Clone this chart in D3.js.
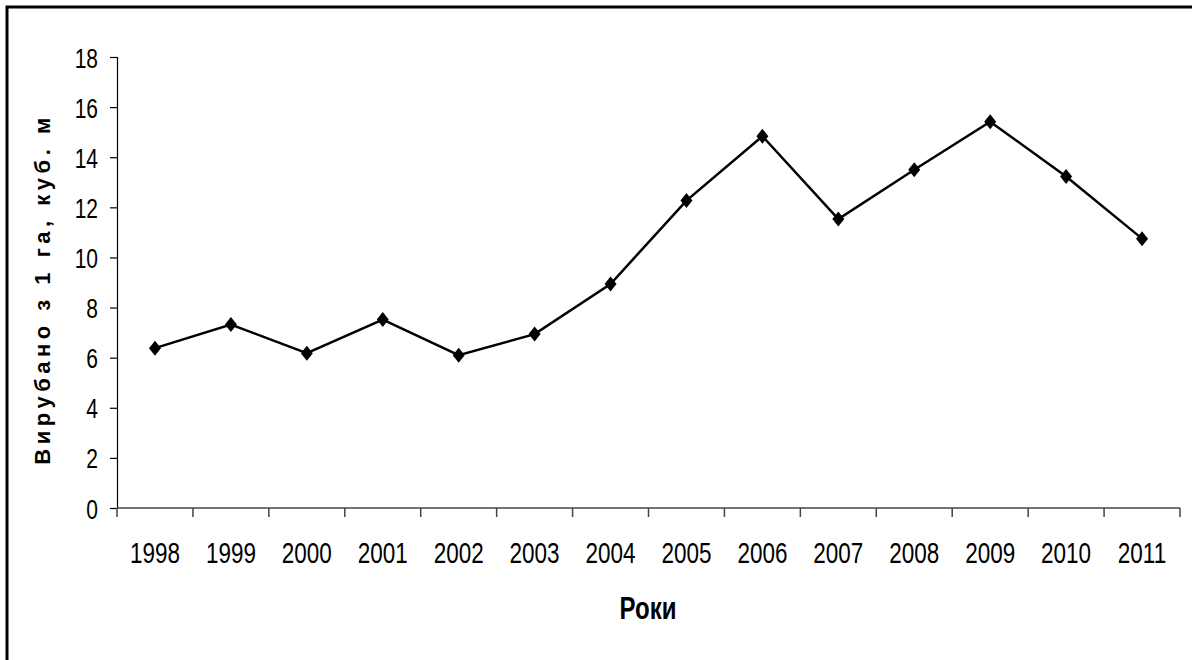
<!DOCTYPE html>
<html>
<head>
<meta charset="utf-8">
<script src="https://cdn.jsdelivr.net/npm/d3@7"></script>
<style>
html,body{margin:0;padding:0;background:#fff;}
svg{display:block;}
</style>
</head>
<body>
<svg id="chart" width="1192" height="660"></svg>
<script>
const years = ["1998","1999","2000","2001","2002","2003","2004","2005","2006","2007","2008","2009","2010","2011"];
const values = [6.38, 7.32, 6.18, 7.52, 6.1, 6.94, 8.94, 12.27, 14.84, 11.53, 13.5, 15.42, 13.23, 10.75];
const yTicks = [0,2,4,6,8,10,12,14,16,18];
const yTitle = "Вирубано з 1 га, куб. м";
const xTitle = "Роки";

(function(){
const svg = d3.select("#chart");
const W = 1192, H = 660;
const mLeft = 117, mRight = 1180, mTop = 57, mBottom = 508;
const font = "'Liberation Sans', Arial, sans-serif";
const sx = 0.75;

// outer frame (extends beyond the viewport on right/bottom)
svg.append("rect").attr("x",7).attr("y",7).attr("width",W+20).attr("height",H+20)
  .attr("fill","none").attr("stroke","#000").attr("stroke-width",3);

const x = d3.scaleBand().domain(years).range([mLeft,mRight]).padding(0);
const y = d3.scaleLinear().domain([0,18]).range([mBottom,mTop]);

// y axis
const yAxis = svg.append("g").attr("transform",`translate(${mLeft},0)`)
  .call(d3.axisLeft(y).tickValues(yTicks).tickSize(7).tickFormat(d3.format("d")));
yAxis.select(".domain").attr("stroke","#000").attr("stroke-width",1.2);
yAxis.selectAll(".tick line").attr("stroke","#000").attr("stroke-width",1.2);
yAxis.selectAll(".tick text")
  .attr("x",null).attr("dy",null)
  .attr("transform",`translate(-19,10) scale(${sx},1)`)
  .attr("text-anchor","end")
  .attr("font-family",font).attr("font-size",28).attr("fill","#000");

// x axis with ticks at band boundaries
const xAxis = svg.append("g").attr("transform",`translate(0,${mBottom})`);
xAxis.append("line").attr("x1",mLeft).attr("x2",mRight).attr("y1",0).attr("y2",0)
  .attr("stroke","#444").attr("stroke-width",1.5);
const bounds = years.map(d=>x(d)).concat([x(years[years.length-1])+x.bandwidth()]);
xAxis.selectAll("line.tk").data(bounds).join("line").attr("class","tk")
  .attr("x1",d=>d).attr("x2",d=>d).attr("y1",0).attr("y2",9)
  .attr("stroke","#444").attr("stroke-width",1.5);
xAxis.selectAll("text").data(years).join("text")
  .attr("transform",d=>`translate(${x(d)+x.bandwidth()/2},55) scale(${sx},1)`)
  .attr("text-anchor","middle").attr("font-family",font).attr("font-size",30).attr("fill","#000")
  .text(d=>d);

// axis titles
svg.append("text").attr("transform",`translate(648,619) scale(${sx},1)`).attr("text-anchor","middle")
  .attr("font-family",font).attr("font-weight","bold").attr("font-size",32).text(xTitle);
svg.append("text").attr("transform",`translate(50,289) rotate(-90)`).attr("text-anchor","middle")
  .attr("font-family",font).attr("font-weight","bold")
  .attr("font-size",22).attr("letter-spacing",4.5).text(yTitle);

// line
const line = d3.line().x((d,i)=>x(years[i])+x.bandwidth()/2).y(d=>y(d));
svg.append("path").datum(values).attr("d",line).attr("fill","none").attr("stroke","#000").attr("stroke-width",2.5);

// diamond markers
svg.selectAll("path.mk").data(values).join("path").attr("class","mk")
  .attr("transform",(d,i)=>`translate(${x(years[i])+x.bandwidth()/2},${y(d)})`)
  .attr("d","M0,-7.5L6,0L0,7.5L-6,0Z").attr("fill","#000");
})();
</script>
</body>
</html>
